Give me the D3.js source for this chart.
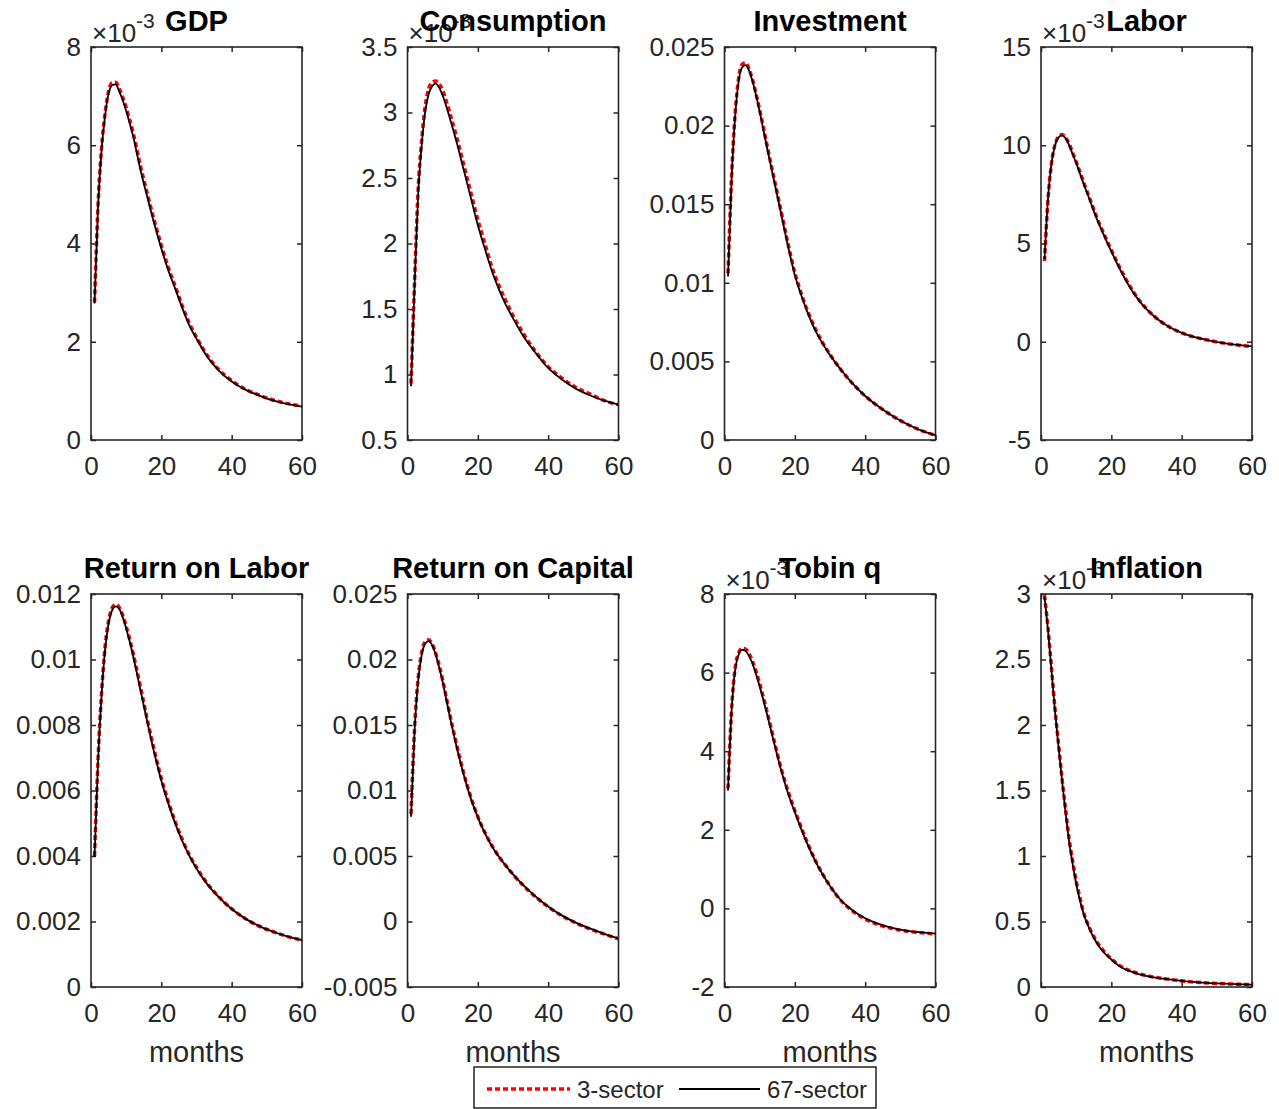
<!DOCTYPE html>
<html><head><meta charset="utf-8">
<script src="https://cdn.jsdelivr.net/npm/d3@7"></script>
<style>body{margin:0;background:#fff;} svg{display:block;font-family:"Liberation Sans",Arial,Helvetica,sans-serif;}</style>
</head><body><svg id="c" width="1279" height="1109"></svg>
<script>
// months at which the responses are read
const months = [1,2,3,4,5,6,7,8,9,10,11,12,14,16,18,20,22,24,26,28,30,33,36,40,44,48,52,56,60];
const xTicks = [0,20,40,60];
const titles = ["GDP","Consumption","Investment","Labor","Return on Labor","Return on Capital","Tobin q","Inflation"];
const seriesNames = ["3-sector","67-sector"];

// values in units of 1e-3
const gdp3  = [2.8,4.78,5.95,6.65,7.1,7.27,7.28,7.16,6.98,6.77,6.52,6.25,5.6,5.02,4.47,3.96,3.51,3.12,2.72,2.37,2.09,1.73,1.46,1.21,1.03,0.91,0.81,0.74,0.69];
const gdp67 = [2.78,4.75,5.9,6.6,7.05,7.22,7.24,7.1,6.92,6.7,6.45,6.18,5.52,4.95,4.4,3.9,3.45,3.07,2.68,2.33,2.06,1.7,1.44,1.19,1.02,0.9,0.8,0.73,0.68];
const cons3  = [0.93,1.7,2.4,2.78,3.04,3.18,3.23,3.24,3.22,3.17,3.09,3.0,2.81,2.6,2.39,2.18,2.0,1.82,1.68,1.56,1.45,1.31,1.19,1.06,0.97,0.9,0.85,0.8,0.77];
const cons67 = [0.91,1.67,2.36,2.74,3.0,3.14,3.2,3.22,3.19,3.13,3.05,2.96,2.77,2.56,2.35,2.14,1.96,1.79,1.65,1.53,1.43,1.29,1.18,1.05,0.96,0.89,0.84,0.8,0.77];
const inv3  = [10.6,16.7,20.7,23.0,23.9,24.0,23.6,22.9,22.0,21.0,19.95,18.85,16.75,14.65,12.55,10.65,9.2,8.0,7.0,6.15,5.45,4.5,3.7,2.8,2.1,1.5,1.0,0.6,0.3];
const inv67 = [10.4,16.5,20.5,22.8,23.7,23.85,23.5,22.8,21.9,20.9,19.8,18.7,16.6,14.5,12.4,10.5,9.1,7.9,6.9,6.1,5.4,4.5,3.7,2.8,2.1,1.5,1.0,0.6,0.3];
const lab3  = [4.1,7.25,9.1,10.05,10.45,10.55,10.4,10.07,9.62,9.17,8.68,8.18,7.22,6.27,5.45,4.67,3.92,3.23,2.62,2.1,1.68,1.18,0.8,0.45,0.22,0.06,-0.07,-0.17,-0.25];
const lab67 = [4.2,7.3,9.1,10.0,10.4,10.5,10.35,10.0,9.55,9.1,8.6,8.1,7.15,6.2,5.38,4.6,3.85,3.17,2.57,2.07,1.66,1.17,0.8,0.45,0.22,0.06,-0.07,-0.16,-0.24];
const rol3  = [4.0,6.95,8.97,10.38,11.18,11.58,11.68,11.6,11.36,11.02,10.62,10.18,9.2,8.17,7.22,6.37,5.66,5.03,4.49,4.03,3.65,3.17,2.79,2.39,2.08,1.85,1.68,1.54,1.43];
const rol67 = [3.97,6.9,8.9,10.3,11.1,11.5,11.62,11.55,11.3,10.95,10.55,10.1,9.1,8.1,7.15,6.3,5.6,4.98,4.45,4.0,3.62,3.15,2.78,2.38,2.08,1.85,1.68,1.54,1.43];
const roc3  = [8.2,14.7,18.5,20.5,21.35,21.5,21.2,20.5,19.55,18.45,17.15,15.85,13.45,11.3,9.5,8.0,6.8,5.8,4.95,4.25,3.6,2.72,1.98,1.12,0.42,-0.13,-0.58,-0.97,-1.32];
const roc67 = [8.0,14.5,18.3,20.3,21.2,21.4,21.1,20.4,19.4,18.3,17.0,15.7,13.3,11.2,9.4,7.95,6.75,5.75,4.95,4.25,3.6,2.75,2.0,1.15,0.45,-0.1,-0.55,-0.95,-1.3];
const tob3  = [3.05,5.05,6.1,6.5,6.62,6.6,6.48,6.28,6.02,5.72,5.39,5.04,4.31,3.6,3.0,2.49,2.02,1.58,1.19,0.86,0.57,0.21,-0.04,-0.27,-0.42,-0.52,-0.58,-0.62,-0.65];
const tob67 = [3.0,5.0,6.05,6.45,6.58,6.55,6.42,6.22,5.95,5.65,5.32,4.98,4.25,3.55,2.95,2.45,1.98,1.55,1.17,0.85,0.57,0.22,-0.02,-0.25,-0.4,-0.5,-0.57,-0.61,-0.64];
const inf3  = [2.99,2.74,2.43,2.12,1.85,1.59,1.35,1.13,0.96,0.81,0.69,0.58,0.44,0.34,0.27,0.215,0.17,0.14,0.118,0.1,0.087,0.072,0.06,0.047,0.037,0.03,0.025,0.021,0.018];
const inf67 = [2.98,2.72,2.41,2.1,1.83,1.57,1.33,1.11,0.94,0.79,0.67,0.57,0.43,0.33,0.26,0.21,0.165,0.135,0.115,0.097,0.085,0.07,0.06,0.047,0.037,0.03,0.025,0.021,0.018];

// y tick values (true units) and labels
const gdpTicks = [0,0.002,0.004,0.006,0.008];           const gdpLabels = ["0","2","4","6","8"];
const consTicks = [0.0005,0.001,0.0015,0.002,0.0025,0.003,0.0035]; const consLabels = ["0.5","1","1.5","2","2.5","3","3.5"];
const invTicks = [0,0.005,0.01,0.015,0.02,0.025];       const invLabels = ["0","0.005","0.01","0.015","0.02","0.025"];
const labTicks = [-0.005,0,0.005,0.01,0.015];           const labLabels = ["-5","0","5","10","15"];
const rolTicks = [0,0.002,0.004,0.006,0.008,0.01,0.012]; const rolLabels = ["0","0.002","0.004","0.006","0.008","0.01","0.012"];
const rocTicks = [-0.005,0,0.005,0.01,0.015,0.02,0.025]; const rocLabels = ["-0.005","0","0.005","0.01","0.015","0.02","0.025"];
const tobTicks = [-0.002,0,0.002,0.004,0.006,0.008];    const tobLabels = ["-2","0","2","4","6","8"];
const infTicks = [0,0.0005,0.001,0.0015,0.002,0.0025,0.003]; const infLabels = ["0","0.5","1","1.5","2","2.5","3"];
const exponentFlags = [true,true,false,true,false,false,true,true];
const unit = 1e-3;

const panels = [
  {s3:gdp3, s67:gdp67, ticks:gdpTicks, labels:gdpLabels},
  {s3:cons3, s67:cons67, ticks:consTicks, labels:consLabels},
  {s3:inv3, s67:inv67, ticks:invTicks, labels:invLabels},
  {s3:lab3, s67:lab67, ticks:labTicks, labels:labLabels},
  {s3:rol3, s67:rol67, ticks:rolTicks, labels:rolLabels},
  {s3:roc3, s67:roc67, ticks:rocTicks, labels:rocLabels},
  {s3:tob3, s67:tob67, ticks:tobTicks, labels:tobLabels},
  {s3:inf3, s67:inf67, ticks:infTicks, labels:infLabels}
];

const svg = d3.select("#c");
const colLeft = [91, 407.5, 724.5, 1041], rowTop = [47, 594], W = 211, H = 393;
const axisCol = "#262626";
const tickFont = 26, titleFont = 29;

panels.forEach((p, i) => {
  const x0 = colLeft[i % 4], y0 = rowTop[Math.floor(i / 4)];
  const g = svg.append("g").attr("transform", `translate(${x0},${y0})`);
  const x = d3.scaleLinear().domain([0, 60]).range([0, W]);
  const y = d3.scaleLinear().domain([p.ticks[0], p.ticks[p.ticks.length - 1]]).range([H, 0]);

  const style = sel => {
    sel.select(".domain").remove();
    sel.selectAll("line").attr("stroke", axisCol).attr("stroke-width", 1.5);
    sel.selectAll("text").attr("fill", axisCol).attr("font-size", tickFont)
      .attr("font-family", '"Liberation Sans",Arial,sans-serif');
  };
  g.append("g").attr("transform", `translate(0,${H})`)
    .call(d3.axisBottom(x).tickValues(xTicks).tickSizeInner(-5).tickSizeOuter(0).tickPadding(17).tickFormat(d3.format("d")))
    .call(style);
  g.append("g")
    .call(d3.axisTop(x).tickValues(xTicks).tickSizeInner(-5).tickSizeOuter(0).tickFormat(""))
    .call(style);
  g.append("g")
    .call(d3.axisLeft(y).tickValues(p.ticks).tickSizeInner(-5).tickSizeOuter(0).tickPadding(10)
      .tickFormat((d, k) => p.labels[k]))
    .call(style);
  g.append("g").attr("transform", `translate(${W},0)`)
    .call(d3.axisRight(y).tickValues(p.ticks).tickSizeInner(-5).tickSizeOuter(0).tickFormat(""))
    .call(style);

  g.append("rect").attr("x", 0).attr("y", 0).attr("width", W).attr("height", H)
    .attr("fill", "none").attr("stroke", axisCol).attr("stroke-width", 1.6);

  const line = d3.line().x((d, k) => x(months[k])).y(d => y(d * unit)).curve(d3.curveMonotoneX);
  g.append("path").datum(p.s3).attr("d", line).attr("fill", "none")
    .attr("stroke", "#ff0000").attr("stroke-width", 3.5).attr("stroke-dasharray", "5,3");
  g.append("path").datum(p.s67).attr("d", line).attr("fill", "none")
    .attr("stroke", "#000").attr("stroke-width", 1.8);

  if (exponentFlags[i]) {
    const t = g.append("text").attr("x", 1).attr("y", -5).attr("fill", axisCol).attr("font-size", tickFont);
    t.append("tspan").text("×10");
    t.append("tspan").attr("dy", -14).attr("font-size", 21).text("-3");
  }
  g.append("text").attr("x", W / 2).attr("y", -16).attr("text-anchor", "middle")
    .attr("font-size", titleFont).attr("font-weight", "bold").attr("fill", "#000").text(titles[i]);
  if (i >= 4) {
    g.append("text").attr("x", W / 2).attr("y", H + 75).attr("text-anchor", "middle")
      .attr("font-size", titleFont).attr("fill", axisCol).text("months");
  }
});

// legend
const lg = svg.append("g").attr("transform", "translate(474,1067)");
lg.append("rect").attr("width", 402).attr("height", 41).attr("fill", "#fff")
  .attr("stroke", "#000").attr("stroke-width", 1.3);
lg.append("line").attr("x1", 13).attr("x2", 96).attr("y1", 22).attr("y2", 22)
  .attr("stroke", "#ff0000").attr("stroke-width", 3.5).attr("stroke-dasharray", "5,3");
lg.append("text").attr("x", 103).attr("y", 31).attr("font-size", 24).attr("fill", axisCol).text(seriesNames[0]);
lg.append("line").attr("x1", 205).attr("x2", 286).attr("y1", 22).attr("y2", 22)
  .attr("stroke", "#000").attr("stroke-width", 1.8);
lg.append("text").attr("x", 293).attr("y", 31).attr("font-size", 24).attr("fill", axisCol).text(seriesNames[1]);
</script></body></html>
